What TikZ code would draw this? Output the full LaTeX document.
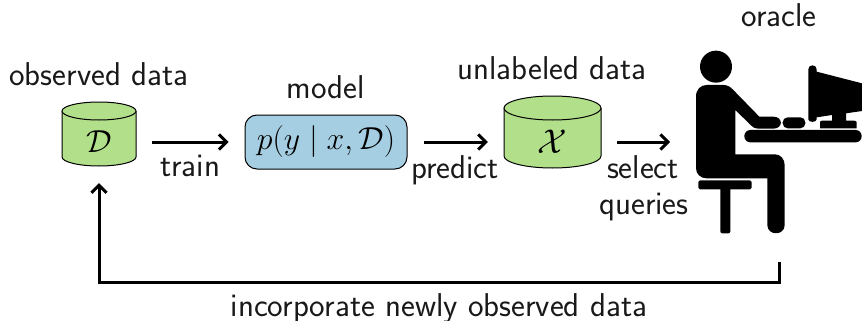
\documentclass[tikz,border=0pt]{standalone}
\usepackage{amsmath,amssymb}
\usepackage{graphicx}
\usetikzlibrary{arrows.meta}
\tikzset{
  lbl/.style={anchor=base,inner sep=0pt,font=\fontsize{33}{38}\selectfont\sffamily,text=black!90},
  db/.style={draw=black,line width=1pt,fill=dbgreen},
  holder/.style={inner sep=0pt,font=\Huge},
  modelbox/.style={draw=black,line width=1pt,fill=mblue,rounded corners=12pt,inner sep=0pt,minimum width=162pt,minimum height=54pt,font=\Huge},
  flow/.style={line width=3pt,-{Straight Barb[length=7.5pt,width=15pt,line width=3pt]}},
  ink/.style={fill=black,draw=none}
}
\definecolor{dbgreen}{HTML}{B2DF8A}
\definecolor{mblue}{HTML}{A6CEE3}
\begin{document}
\begin{tikzpicture}[x=1pt,y=-1pt]
\useasboundingbox (0,0) rectangle (862,321);
% cylinder D
\draw[db] (62,111) -- (62,157) arc[start angle=180,end angle=360,x radius=37,y radius=-9] -- (136,111);
\draw[db] (99,111) ellipse[x radius=37,y radius=9];
\node[holder,minimum width=74pt,minimum height=48pt] (D) at (99,142) {\scalebox{1.28}{$\mathcal{D}$}};
% cylinder X
\draw[db] (504,108) -- (504,156) arc[start angle=180,end angle=360,x radius=48.5,y radius=-12] -- (601,108);
\draw[db] (552.5,108) ellipse[x radius=48.5,y radius=12];
\node[holder,minimum width=97pt,minimum height=52pt] (X) at (552.5,142) {\scalebox{1.38}{$\mathcal{X}$}};
% model
\node[modelbox] (M) at (326,142) {\scalebox{1.28}{$p(y \mid x, \mathcal{D})$}};
% person
\begin{scope}[shift={(660,30)},x=0.33333pt,y=-0.33333pt]
\fill[ink] (168,110) circle[radius=48];
\fill[ink] (108,200) .. controls (108,178) and (122,165) .. (140,165) -- (190,165)
  .. controls (202,165) and (210,170) .. (218,178) -- (298,260) -- (340,260)
  .. controls (370,260) and (370,296) .. (340,296) -- (295,296)
  .. controls (285,296) and (280,293) .. (274,287) -- (226,240) -- (226,373) -- (345,373)
  .. controls (362,373) and (374,388) .. (374,405) -- (374,585)
  .. controls (374,618) and (322,618) .. (322,585) -- (322,445) -- (140,445)
  .. controls (122,445) and (108,432) .. (108,415) -- cycle;
\fill[ink,rounded corners=5pt] (368,262) rectangle (436,295);
\fill[ink,rounded corners=6pt] (253,300) rectangle (605,337);
\fill[ink,rounded corners=1.7pt] (115,451) rectangle (275,478);
\fill[ink,rounded corners=2pt] (181,470) rectangle (211,610);
\fill[ink] (445,118) .. controls (445,102) and (470,102) .. (470,118) -- (470,125) -- (606,160) -- (606,243) -- (558,250) -- (558,272) -- (582,272)
  .. controls (588,272) and (590,274) .. (590,278) -- (590,295) -- (480,295) -- (480,278)
  .. controls (480,274) and (482,272) .. (486,272) -- (516,272) -- (516,255) -- (470,262) -- (470,268)
  .. controls (470,278) and (445,278) .. (445,268) -- cycle;
\coordinate (person) at (60,337);
\coordinate (foot) at (358,696);
\end{scope}
% labels
\node[lbl] (lobs) at (99,85) {observed data};
\node[lbl] (lmodel) at (326,98) {model};
\node[lbl] (lunl) at (552,80) {unlabeled data};
\node[lbl] (lor) at (779,27) {oracle};
\node[lbl] (ltrain) at (190,176) {train};
\node[lbl] (lpred) at (455,178) {predict};
\node[lbl] (lsel) at (643,178) {select};
\node[lbl] (lque) at (644,214) {queries};
\node[lbl] (linc) at (439,316) {incorporate newly observed data};
% connectors
\draw[flow,shorten >=16pt,shorten <=16pt] (D.east) -- (M.west);
\draw[flow,shorten >=16pt,shorten <=16pt] (M.east) -- (X.west);
\draw[flow,shorten <=16pt,shorten >=10pt] (X.east) -- (X.east -| person);
\coordinate (corner) at (D |- 0,282);
\draw[flow,shorten >=17pt] (foot) |- (corner) -- (D.south);
\end{tikzpicture}
\end{document}
